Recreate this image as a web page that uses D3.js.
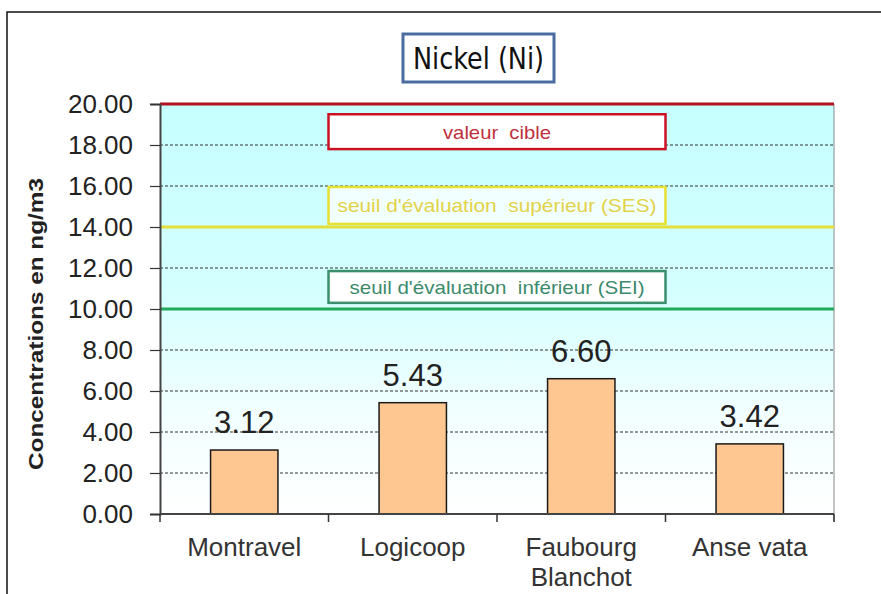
<!DOCTYPE html>
<html>
<head>
<meta charset="utf-8">
<script src="https://cdn.jsdelivr.net/npm/d3@7"></script>
<style>
  html, body { margin: 0; padding: 0; background: #fff; }
  svg { display: block; }
</style>
</head>
<body>
<svg id="chart" width="881" height="594"></svg>
<script>
const categories = ["Montravel", "Logicoop", "Faubourg Blanchot", "Anse vata"];
const values = [3.12, 5.43, 6.60, 3.42];
const yTicks = [0, 2, 4, 6, 8, 10, 12, 14, 16, 18, 20];
const thresholdNames = ["valeur  cible", "seuil d'évaluation  supérieur (SES)", "seuil d'évaluation  inférieur (SEI)"];
const thresholdValues = [20, 14, 10];
const thresholdBoxTop = [19.5, 15.95, 11.85];
const thresholdBoxBottom = [17.8, 14.15, 10.3];
const title = "Nickel (Ni)";
const yLabel = "Concentrations en ng/m3";

const svg = d3.select("#chart");
const W = 881, H = 594;
const m = { left: 160, right: 834, top: 104, bottom: 514 };

const y = d3.scaleLinear().domain([0, 20]).range([m.bottom, m.top]);
const x = d3.scaleBand().domain(categories).range([m.left, m.right]).paddingInner(0.6).paddingOuter(0.3);
const xc = d3.scaleLinear().domain([0, categories.length]).range([m.left, m.right]);

const lineColors = ["#b3121f", "#e3e03c", "#22a85a"];
const boxStroke = ["#cc1122", "#e6e032", "#3a8f6c"];
const boxFill = ["#ffffff", "#f2ffff", "#ffffff"];
const textColor = ["#c0303c", "#e2d24a", "#3c8a6c"];
const textLen = [108, 319, 295];
const FONT = "'Liberation Sans', Arial, sans-serif";

// outer frame
svg.append("rect").attr("x", 7).attr("y", 12).attr("width", W + 20).attr("height", H + 20)
  .attr("fill", "#fff").attr("stroke", "#111").attr("stroke-width", 1.5);

// background gradient
const defs = svg.append("defs");
const grad = defs.append("linearGradient").attr("id", "bg").attr("x1", 0).attr("y1", 0).attr("x2", 0).attr("y2", 1);
grad.append("stop").attr("offset", "0%").attr("stop-color", "#c6ffff");
grad.append("stop").attr("offset", "45%").attr("stop-color", "#d4ffff");
grad.append("stop").attr("offset", "75%").attr("stop-color", "#f2ffff");
grad.append("stop").attr("offset", "100%").attr("stop-color", "#ffffff");

svg.append("rect").attr("x", m.left).attr("y", m.top).attr("width", m.right - m.left).attr("height", m.bottom - m.top)
  .attr("fill", "url(#bg)");

// gridlines
svg.append("g").selectAll("line").data(yTicks.filter(d => d > 0 && !thresholdValues.includes(d))).join("line")
  .attr("x1", m.left).attr("x2", m.right).attr("y1", d => y(d)).attr("y2", d => y(d))
  .attr("stroke", "#333").attr("stroke-width", 1).attr("stroke-dasharray", "3,2");

// right border
svg.append("line").attr("x1", m.right).attr("x2", m.right).attr("y1", m.top).attr("y2", m.bottom + 8)
  .attr("stroke", "#888").attr("stroke-width", 1);

// threshold lines
svg.append("g").selectAll("line").data(thresholdValues).join("line")
  .attr("x1", m.left).attr("x2", m.right).attr("y1", d => y(d)).attr("y2", d => y(d))
  .attr("stroke", (d, i) => lineColors[i]).attr("stroke-width", 3);

// threshold boxes
const boxes = svg.append("g").selectAll("g").data(thresholdNames).join("g");
boxes.append("rect")
  .attr("x", xc(1)).attr("width", xc(3) - xc(1))
  .attr("y", (d, i) => y(thresholdBoxTop[i]))
  .attr("height", (d, i) => y(thresholdBoxBottom[i]) - y(thresholdBoxTop[i]))
  .attr("fill", (d, i) => boxFill[i]).attr("stroke", (d, i) => boxStroke[i]).attr("stroke-width", 2.5);
boxes.append("text")
  .attr("x", xc(2))
  .attr("y", (d, i) => (y(thresholdBoxBottom[i]) + y(thresholdBoxTop[i])) / 2)
  .attr("dy", "0.36em")
  .attr("text-anchor", "middle")
  .attr("font-family", FONT)
  .attr("font-size", 19)
  .attr("fill", (d, i) => textColor[i])
  .attr("textLength", (d, i) => textLen[i])
  .attr("lengthAdjust", "spacingAndGlyphs")
  .style("white-space", "pre")
  .text(d => d);

// bars
svg.append("g").selectAll("rect").data(values).join("rect")
  .attr("x", (d, i) => x(categories[i])).attr("width", x.bandwidth())
  .attr("y", d => y(d)).attr("height", d => y(0) - y(d))
  .attr("fill", "#fec690").attr("stroke", "#1a1a1a").attr("stroke-width", 1.5);

// value labels
svg.append("g").selectAll("text").data(values).join("text")
  .attr("x", (d, i) => x(categories[i]) + x.bandwidth() / 2)
  .attr("y", d => y(d) - 17)
  .attr("text-anchor", "middle")
  .attr("font-family", FONT)
  .attr("font-size", 31)
  .attr("fill", "#222")
  .text(d => d3.format(".2f")(d));

// y axis
const yAxis = svg.append("g").attr("transform", `translate(${m.left},0)`)
  .call(d3.axisLeft(y).tickValues(yTicks).tickFormat(d3.format(".2f")).tickSize(10).tickPadding(17));
yAxis.select(".domain").attr("stroke", "#444").attr("stroke-width", 2);
yAxis.selectAll(".tick line").attr("stroke", "#333").attr("stroke-width", 1.2);
yAxis.selectAll(".tick text").attr("font-family", FONT)
  .attr("font-size", 26).attr("fill", "#222");

// x axis
svg.append("line").attr("x1", m.left).attr("x2", m.right).attr("y1", y(0)).attr("y2", y(0))
  .attr("stroke", "#444").attr("stroke-width", 2);
svg.append("g").selectAll("line").data(d3.range(categories.length + 1)).join("line")
  .attr("x1", d => xc(d)).attr("x2", d => xc(d)).attr("y1", y(0)).attr("y2", y(0) + 8)
  .attr("stroke", "#333").attr("stroke-width", 1.5);

const xl = svg.append("g").selectAll("text").data(categories).join("text")
  .attr("x", d => x(d) + x.bandwidth() / 2)
  .attr("y", 556)
  .attr("text-anchor", "middle")
  .attr("font-family", FONT)
  .attr("font-size", 26)
  .attr("fill", "#333");
xl.each(function(d) {
  const words = d === "Faubourg Blanchot" ? ["Faubourg", "Blanchot"] : [d];
  const t = d3.select(this);
  words.forEach((w, k) => {
    t.append("tspan").attr("x", x(d) + x.bandwidth() / 2).attr("dy", k === 0 ? 0 : 30).text(w);
  });
});

// y label
svg.append("text")
  .attr("transform", `translate(43,324) rotate(-90)`)
  .attr("text-anchor", "middle")
  .attr("font-family", FONT)
  .attr("font-weight", "bold")
  .attr("font-size", 20)
  .attr("textLength", 292)
  .attr("lengthAdjust", "spacingAndGlyphs")
  .attr("fill", "#222")
  .text(yLabel);

// title
svg.append("rect").attr("x", 403).attr("y", 34).attr("width", 151).attr("height", 48)
  .attr("fill", "#fff").attr("stroke", "#4a6c9f").attr("stroke-width", 3);
svg.append("text")
  .attr("x", 478.5).attr("y", 58).attr("dy", "0.36em")
  .attr("text-anchor", "middle")
  .attr("font-family", "'Liberation Sans Narrow', 'DejaVu Sans Condensed', sans-serif")
  .attr("font-size", 30)
  .attr("textLength", 131)
  .attr("lengthAdjust", "spacingAndGlyphs")
  .attr("fill", "#111")
  .text(title);
</script>
</body>
</html>
